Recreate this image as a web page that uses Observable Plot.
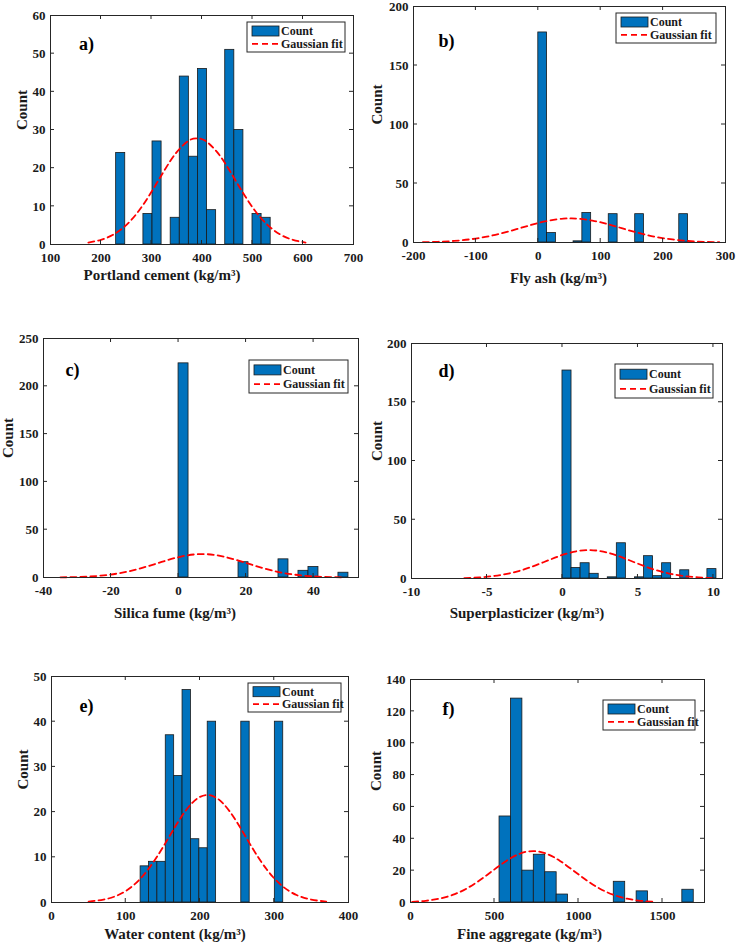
<!DOCTYPE html>
<html>
<head>
<meta charset="utf-8">
<script src="https://cdn.jsdelivr.net/npm/d3@7"></script>
<script src="https://cdn.jsdelivr.net/npm/@observablehq/plot@0.6"></script>
<style>
  body { margin: 0; background: #fff; }
  #wrap { position: relative; width: 736px; height: 944px; overflow: hidden; }
  .panel { position: absolute; }
  .panel svg { overflow: visible; }
  #wrap svg, #wrap svg text { font-family: "Liberation Serif", "Times New Roman", "DejaVu Serif", serif !important; font-weight: bold; }
</style>
</head>
<body>
<div id="wrap"></div>
<script>
// ---------- a) Portland cement ----------
const cementEdges = [230,248,266,284,302,320,338,356,374,392,410,428,446,464,482,500,518,536];
const cementCounts = [24,0,0,8,27,0,7,44,23,46,9,0,51,30,0,8,7];
const cementFitX = [175,200,225,250,275,300,325,350,375,390,405,430,455,480,505,530,555,580,605];
const cementFitY = [0.51,1.22,2.63,5.09,8.85,13.8,19.3,24.2,27.3,27.8,27.3,24.2,19.3,13.8,8.85,5.09,2.63,1.22,0.51];
const cementXTicks = [100,200,300,400,500,600,700];
const cementYTicks = [0,10,20,30,40,50,60];

// ---------- b) Fly ash ----------
const flyEdges = [0,14.1,28.2,42.4,56.5,70.6,84.7,98.8,112.9,127.1,141.2,155.3,169.4,183.5,197.6,211.8,225.9,240];
const flyCounts = [178,8,0,0,1,25,0,0,24,0,0,24,0,0,0,0,24];
const flyFitX = [-185,-160,-135,-110,-85,-60,-35,-10,15,40,52,65,90,115,140,165,190,215,240,265,290];
const flyFitY = [0.25,0.61,1.33,2.63,4.71,7.65,11.3,15.1,18.3,20.2,20.4,20.1,18.2,15.0,11.1,7.5,4.6,2.6,1.29,0.59,0.24];
const flyXTicks = [-200,-100,0,100,200,300];
const flyYTicks = [0,50,100,150,200];

// ---------- c) Silica fume ----------
const silicaEdges = [0,2.96,5.92,8.88,11.84,14.8,17.76,20.72,23.68,26.64,29.6,32.56,35.52,38.48,41.44,44.4,47.36,50.32];
const silicaCounts = [224,0,0,0,0,0,16,0,0,0,19,0,7,11,0,0,5];
const silicaFitX = [-35,-29,-23,-17,-11,-5,1,7,13,19,25,31,37,43,49];
const silicaFitY = [0.17,0.63,1.93,4.8,9.8,16.3,22.1,24.5,22.1,16.3,9.8,4.8,1.93,0.63,0.17];
const silicaXTicks = [-40,-20,0,20,40];
const silicaYTicks = [0,50,100,150,200,250];

// ---------- d) Superplasticizer ----------
const superEdges = [0,0.6,1.2,1.8,2.4,3.0,3.6,4.2,4.8,5.4,6.0,6.6,7.2,7.8,8.4,9.0,9.6,10.2];
const superCounts = [177,9,13,4,0,1,30,0,1,19,2,13,0,7,0,0,8];
const superFitX = [-6.5,-5.5,-4.5,-3.5,-2.5,-1.5,-0.5,0.5,1.75,3,4,5,6,7,8,9,10];
const superFitY = [0.36,0.94,2.17,4.42,7.9,12.6,17.7,22.0,24.2,22.0,17.7,12.6,7.9,4.42,2.17,0.94,0.36];
const superXTicks = [-10,-5,0,5,10];
const superYTicks = [0,50,100,150,200];

// ---------- e) Water content ----------
const waterEdges = [120,131.3,142.6,153.9,165.2,176.5,187.8,199.1,210.4,221.7,233,244.3,255.6,266.9,278.2,289.5,300.8,312.1];
const waterCounts = [8,9,9,37,28,47,14,12,40,0,0,0,40,0,0,0,40];
const waterFitX = [50,70,90,110,130,150,170,190,210,230,250,270,290,310,330,350,370];
const waterFitY = [0.21,0.64,1.66,3.75,7.29,12.2,17.7,22.1,23.8,22.1,17.7,12.2,7.29,3.75,1.66,0.64,0.21];
const waterXTicks = [0,100,200,300,400];
const waterYTicks = [0,10,20,30,40,50];

// ---------- f) Fine aggregate ----------
const fineEdges = [530,598,666,734,802,870,938,1006,1074,1142,1210,1278,1346,1414,1482,1550,1618,1686];
const fineCounts = [54,128,20,30,19,5,0,0,0,0,13,0,7,0,0,0,8];
const fineFitX = [10,90,170,250,330,410,490,570,650,730,810,890,970,1050,1130,1210,1290,1370,1450];
const fineFitY = [0.43,1.07,2.37,4.74,8.52,13.8,20.0,26.1,30.6,32.3,30.6,26.1,20.0,13.8,8.52,4.74,2.37,1.07,0.43];
const fineXTicks = [0,500,1000,1500];
const fineYTicks = [0,20,40,60,80,100,120,140];

const panelLetters = ["a)","b)","c)","d)","e)","f)"];
const xLabels = ["Portland cement (kg/m³)","Fly ash (kg/m³)","Silica fume (kg/m³)","Superplasticizer (kg/m³)","Water content (kg/m³)","Fine aggregate (kg/m³)"];
const legendLabels = ["Count","Gaussian fit"];

const FONT = "Liberation Serif, Times New Roman, DejaVu Serif, serif";
const BLUE = "#0072BD";
const INK = "#262626";

const panels = [
  {edges: cementEdges, counts: cementCounts, fitX: cementFitX, fitY: cementFitY, xTicks: cementXTicks, yTicks: cementYTicks,
   xDomain: [100,700], yDomain: [0,60],
   box: {left: 0, top: 0, w: 368, h: 300, mL: 50, mR: 15, mT: 15, mB: 56},
   xlab: {dx: -40, dy: 31}, ylabDx: -28, letter: {dx: 36, dy: 29}, legend: {r: 8, t: 7, w: 98, h: 30}},
  {edges: flyEdges, counts: flyCounts, fitX: flyFitX, fitY: flyFitY, xTicks: flyXTicks, yTicks: flyYTicks,
   xDomain: [-200,300], yDomain: [0,200],
   box: {left: 368, top: 0, w: 368, h: 300, mL: 45, mR: 11, mT: 6, mB: 58},
   xlab: {dx: -11, dy: 36}, ylabDx: -36, letter: {dx: 33, dy: 35}, legend: {r: 9, t: 7, w: 100, h: 30}},
  {edges: silicaEdges, counts: silicaCounts, fitX: silicaFitX, fitY: silicaFitY, xTicks: silicaXTicks, yTicks: silicaYTicks,
   xDomain: [-40,53.3], yDomain: [0,250],
   box: {left: 0, top: 300, w: 368, h: 330, mL: 43, mR: 10, mT: 38, mB: 53},
   xlab: {dx: -26, dy: 36}, ylabDx: -35, letter: {dx: 29, dy: 32}, legend: {r: 10, t: 22, w: 99, h: 33}},
  {edges: superEdges, counts: superCounts, fitX: superFitX, fitY: superFitY, xTicks: superXTicks, yTicks: superYTicks,
   xDomain: [-10,10.6], yDomain: [0,200],
   box: {left: 368, top: 300, w: 368, h: 330, mL: 43, mR: 14, mT: 43, mB: 52},
   xlab: {dx: -40, dy: 35}, ylabDx: -34, letter: {dx: 35, dy: 28}, legend: {r: 9, t: 21, w: 98, h: 34}},
  {edges: waterEdges, counts: waterCounts, fitX: waterFitX, fitY: waterFitY, xTicks: waterXTicks, yTicks: waterYTicks,
   xDomain: [0,400], yDomain: [0,50],
   box: {left: 0, top: 610, w: 368, h: 334, mL: 51, mR: 20, mT: 66, mB: 42},
   xlab: {dx: -25, dy: 32}, ylabDx: -28, letter: {dx: 35, dy: 30}, legend: {r: 7, t: 7, w: 93, h: 29}},
  {edges: fineEdges, counts: fineCounts, fitX: fineFitX, fitY: fineFitY, xTicks: fineXTicks, yTicks: fineYTicks,
   xDomain: [0,1750], yDomain: [0,140],
   box: {left: 368, top: 610, w: 368, h: 334, mL: 42, mR: 32, mT: 69, mB: 42},
   xlab: {dx: -28, dy: 32}, ylabDx: -34, letter: {dx: 38, dy: 30}, legend: {r: 9, t: 21, w: 92, h: 30}}
];

// inward ticks on all four sides (MATLAB box style)
function innerTicks(xt, yt) {
  return (index, scales, values, dims) => {
    const {x, y} = scales;
    const L = dims.marginLeft, R = dims.width - dims.marginRight;
    const T = dims.marginTop, B = dims.height - dims.marginBottom;
    const g = d3.create("svg:g").attr("stroke", INK).attr("stroke-width", 1).attr("fill", "none");
    for (const t of xt) {
      const px = x(t);
      if (px <= L + 1 || px >= R - 1) continue;
      g.append("line").attr("x1", px).attr("x2", px).attr("y1", B).attr("y2", B - 4);
      g.append("line").attr("x1", px).attr("x2", px).attr("y1", T).attr("y2", T + 4);
    }
    for (const t of yt) {
      const py = y(t);
      if (py <= T + 1 || py >= B - 1) continue;
      g.append("line").attr("x1", L).attr("x2", L + 4).attr("y1", py).attr("y2", py);
      g.append("line").attr("x1", R).attr("x2", R - 4).attr("y1", py).attr("y2", py);
    }
    return g.node();
  };
}

function legendBox(lg) {
  return (index, scales, values, dims) => {
    const R = dims.width - dims.marginRight;
    const x0 = R - lg.r - lg.w, y0 = dims.marginTop + lg.t;
    const g = d3.create("svg:g");
    g.append("rect").attr("x", x0).attr("y", y0).attr("width", lg.w).attr("height", lg.h)
      .attr("fill", "#fff").attr("stroke", INK).attr("stroke-width", 1);
    const r1 = y0 + lg.h * 0.3, r2 = y0 + lg.h * 0.73;
    g.append("rect").attr("x", x0 + 5).attr("y", r1 - 5).attr("width", 27).attr("height", 10)
      .attr("fill", BLUE).attr("stroke", "#1a1a1a").attr("stroke-width", 0.8);
    g.append("line").attr("x1", x0 + 5).attr("x2", x0 + 32).attr("y1", r2).attr("y2", r2)
      .attr("stroke", "#FF0000").attr("stroke-width", 1.8).attr("stroke-dasharray", "6,4");
    const txt = [[legendLabels[0], r1], [legendLabels[1], r2]];
    for (const [s, yy] of txt) {
      g.append("text").attr("x", x0 + 34).attr("y", yy).attr("dy", "0.35em")
        .attr("text-anchor", "start")
        .attr("fill", "#1a1a1a").attr("font-size", 12).attr("font-weight", "bold")
        .attr("font-family", FONT).text(s);
    }
    return g.node();
  };
}

const wrap = document.getElementById("wrap");
panels.forEach((p, i) => {
  const bins = p.counts.map((c, k) => ({x1: p.edges[k], x2: p.edges[k + 1], count: c}));
  const fit = p.fitX.map((x, k) => ({x, y: p.fitY[k]}));
  const b = p.box;
  const chart = Plot.plot({
    width: b.w, height: b.h,
    marginLeft: b.mL, marginRight: b.mR, marginTop: b.mT, marginBottom: b.mB,
    style: {fontFamily: FONT, fontSize: "13px", fontWeight: "bold", color: "#1a1a1a", background: "transparent", overflow: "visible"},
    x: {domain: p.xDomain, axis: null},
    y: {domain: p.yDomain, axis: null},
    marks: [
      Plot.rect(bins, {filter: d => d.count > 0, x1: "x1", x2: "x2", y1: 0, y2: "count",
        fill: BLUE, stroke: "#1a1a1a", strokeWidth: 0.8}),
      Plot.line(fit, {x: "x", y: "y", stroke: "#FF0000", strokeWidth: 1.8, strokeDasharray: "6,4", curve: "natural"}),
      Plot.frame({stroke: INK, strokeWidth: 1}),
      Plot.axisX({ticks: p.xTicks, tickSize: 0, tickPadding: 8, tickFormat: d => String(d), label: null,
        fontSize: 13, fontWeight: "bold", fontFamily: FONT}),
      Plot.axisY({ticks: p.yTicks, tickSize: 0, tickPadding: 5, tickFormat: d => String(d), label: null,
        fontSize: 13, fontWeight: "bold", fontFamily: FONT}),
      innerTicks(p.xTicks, p.yTicks),
      Plot.text([xLabels[i]], {text: d => d, frameAnchor: "bottom", lineAnchor: "middle", dx: p.xlab.dx, dy: p.xlab.dy,
        fontSize: 15, fontWeight: "bold", fontFamily: FONT, fill: "#1a1a1a"}),
      Plot.text(["Count"], {text: d => d, frameAnchor: "left", lineAnchor: "middle", rotate: -90, dx: p.ylabDx,
        fontSize: 15, fontWeight: "bold", fontFamily: FONT, fill: "#1a1a1a"}),
      Plot.text([panelLetters[i]], {text: d => d, frameAnchor: "top-left", lineAnchor: "middle", dx: p.letter.dx, dy: p.letter.dy,
        textAnchor: "middle", fontSize: 18, fontWeight: "bold", fontFamily: FONT, fill: "#000"}),
      legendBox(p.legend)
    ]
  });
  const div = document.createElement("div");
  div.className = "panel";
  div.style.left = b.left + "px";
  div.style.top = b.top + "px";
  div.style.width = b.w + "px";
  div.style.height = b.h + "px";
  div.appendChild(chart);
  wrap.appendChild(div);
});
</script>
</body>
</html>
